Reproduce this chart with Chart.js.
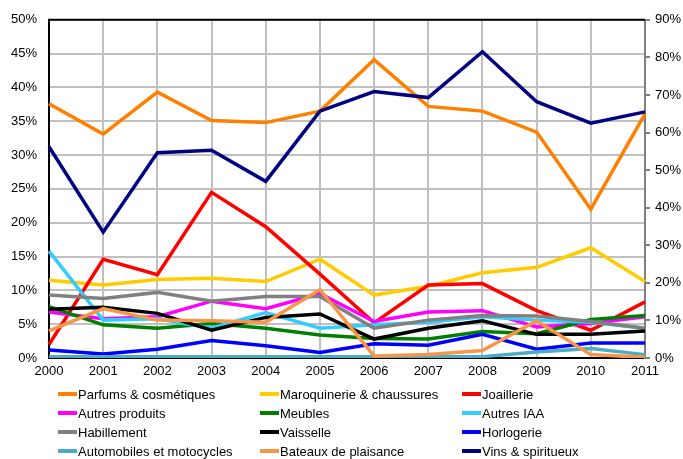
<!DOCTYPE html>
<html lang="fr">
<head>
<meta charset="utf-8">
<title>Exportations par produit, 2000-2011</title>
<script src="https://cdn.jsdelivr.net/npm/chart.js@4/dist/chart.umd.min.js"></script>
<style>
  html, body { margin: 0; padding: 0; background: #fff; }
  #wrap { position: relative; width: 683px; height: 459px; }
</style>
</head>
<body>
<div id="wrap"><canvas id="c" width="683" height="459"></canvas></div>
<script>
// Years on the horizontal axis
const years = ['2000','2001','2002','2003','2004','2005','2006','2007','2008','2009','2010','2011'];

// Shares per product (left axis, %)
const parfums      = [37.6, 33.1, 39.3, 35.1, 34.8, 36.5, 44.1, 37.2, 36.5, 33.4, 22.0, 36.1];
const maroquinerie = [11.5, 10.8, 11.6, 11.8, 11.3, 14.6,  9.3, 10.6, 12.6, 13.4, 16.3, 11.3];
const joaillerie   = [ 2.0, 14.6, 12.3, 24.5, 19.4, 12.4,  5.2, 10.8, 11.0,  7.0,  4.1,  8.3];
const autresProd   = [ 6.8,  5.8,  6.1,  8.4,  7.3,  9.5,  5.4,  6.8,  7.0,  4.6,  5.1,  6.1];
const meubles      = [ 7.6,  4.9,  4.4,  5.1,  4.4,  3.4,  2.9,  2.8,  3.9,  3.6,  5.7,  6.3];
const autresIAA    = [15.8,  5.6,  5.8,  4.4,  6.7,  4.4,  4.9,  5.3,  6.1,  5.6,  5.3,  4.4];
const habillement  = [ 9.3,  8.8,  9.7,  8.4,  9.1,  9.1,  4.4,  5.6,  6.3,  6.2,  5.4,  4.4];
const vaisselle    = [ 7.2,  7.5,  6.6,  4.1,  6.0,  6.5,  2.8,  4.4,  5.5,  3.5,  3.5,  4.0];
const horlogerie   = [ 1.2,  0.6,  1.3,  2.6,  1.8,  0.8,  2.1,  1.9,  3.5,  1.3,  2.2,  2.2];
const automobiles  = [ 0.2,  0.2,  0.2,  0.2,  0.2,  0.2,  0.2,  0.2,  0.2,  0.9,  1.4,  0.5];
const bateaux      = [ 4.0,  7.3,  5.6,  5.5,  5.3, 10.1,  0.3,  0.5,  1.1,  5.5,  0.5,  0.1];
// Wines & spirits (right axis, %)
const vins         = [56.2, 33.5, 54.6, 55.3, 47.0, 65.7, 70.9, 69.3, 81.5, 68.2, 62.5, 65.5];

// Axis tick values
const leftTicks  = [0, 5, 10, 15, 20, 25, 30, 35, 40, 45, 50];
const rightTicks = [0, 10, 20, 30, 40, 50, 60, 70, 80, 90];

const series = [
  { label: 'Parfums & cosmétiques',      data: parfums,      color: '#FF8000', axis: 'y'  },
  { label: 'Maroquinerie & chaussures',  data: maroquinerie, color: '#FFCC00', axis: 'y'  },
  { label: 'Joaillerie',                 data: joaillerie,   color: '#FF0000', axis: 'y'  },
  { label: 'Autres produits',            data: autresProd,   color: '#FF00FF', axis: 'y'  },
  { label: 'Meubles',                    data: meubles,      color: '#008000', axis: 'y'  },
  { label: 'Autres IAA',                 data: autresIAA,    color: '#33CCFF', axis: 'y'  },
  { label: 'Habillement',                data: habillement,  color: '#808080', axis: 'y'  },
  { label: 'Vaisselle',                  data: vaisselle,    color: '#000000', axis: 'y'  },
  { label: 'Horlogerie',                 data: horlogerie,   color: '#0000FF', axis: 'y'  },
  { label: 'Automobiles et motocycles',  data: automobiles,  color: '#4BACC6', axis: 'y'  },
  { label: 'Bateaux de plaisance',       data: bateaux,      color: '#F79646', axis: 'y'  },
  { label: 'Vins & spiritueux',          data: vins,         color: '#000080', axis: 'y1' }
];

const FONT = '"Liberation Sans", Arial, sans-serif';

// Black frame line along the top of the plot area
const topBorder = {
  id: 'topBorder',
  afterDatasetsDraw(chart) {
    const { ctx, chartArea: a } = chart;
    ctx.save();
    ctx.strokeStyle = '#000';
    ctx.lineWidth = 2;
    ctx.beginPath();
    ctx.moveTo(a.left - 1, a.top);
    ctx.lineTo(a.right, a.top);
    ctx.stroke();
    ctx.restore();
  }
};

// Three-column legend under the axis
const gridLegend = {
  id: 'gridLegend',
  afterDraw(chart) {
    const { ctx } = chart;
    const colX = [58, 260, 462];
    const rowY = [394, 413, 432, 451];
    ctx.save();
    ctx.font = '13px ' + FONT;
    ctx.textBaseline = 'middle';
    ctx.textAlign = 'left';
    chart.data.datasets.forEach((ds, i) => {
      const x = colX[i % 3];
      const y = rowY[Math.floor(i / 3)];
      ctx.strokeStyle = ds.borderColor;
      ctx.lineWidth = 4;
      ctx.lineCap = 'butt';
      ctx.beginPath();
      ctx.moveTo(x, y);
      ctx.lineTo(x + 19, y);
      ctx.stroke();
      ctx.fillStyle = '#000';
      ctx.fillText(ds.label, x + 20, y + 1);
    });
    ctx.restore();
  }
};

new Chart(document.getElementById('c'), {
  type: 'line',
  data: {
    labels: years,
    datasets: series.map((s, i) => ({
      label: s.label,
      data: s.data,
      yAxisID: s.axis,
      borderColor: s.color,
      backgroundColor: s.color,
      borderWidth: 3.5,
      pointRadius: 0,
      tension: 0,
      fill: false,
      order: series.length - i
    }))
  },
  options: {
    responsive: false,
    animation: false,
    layout: { padding: { top: 17, left: 0, right: 0, bottom: 0 } },
    plugins: { legend: { display: false }, tooltip: { enabled: false }, title: { display: false } },
    scales: {
      x: {
        offset: false,
        grid: { color: '#C0C0C0', lineWidth: 2, drawTicks: false },
        border: { color: '#000', width: 2 },
        ticks: { color: '#000', font: { family: FONT, size: 13 }, padding: 6, maxRotation: 0, autoSkip: false },
        afterFit(scale) { scale.height = 101; }
      },
      y: {
        position: 'left',
        min: 0, max: 50,
        afterBuildTicks(scale) { scale.ticks = leftTicks.map(v => ({ value: v })); },
        grid: { color: '#C0C0C0', lineWidth: 2, drawTicks: false },
        border: { color: '#000', width: 2 },
        ticks: { color: '#000', font: { family: FONT, size: 13 }, padding: 12, callback: v => v + '%' },
        afterFit(scale) { scale.width = 49; }
      },
      y1: {
        position: 'right',
        min: 0, max: 90,
        afterBuildTicks(scale) { scale.ticks = rightTicks.map(v => ({ value: v })); },
        grid: { drawOnChartArea: false, color: '#808080', lineWidth: 2, drawTicks: true, tickLength: 5 },
        border: { color: '#808080', width: 2 },
        ticks: { color: '#000', font: { family: FONT, size: 13 }, padding: 5, callback: v => v + '%' },
        afterFit(scale) { scale.width = 38; }
      }
    }
  },
  plugins: [topBorder, gridLegend]
});
</script>
</body>
</html>
